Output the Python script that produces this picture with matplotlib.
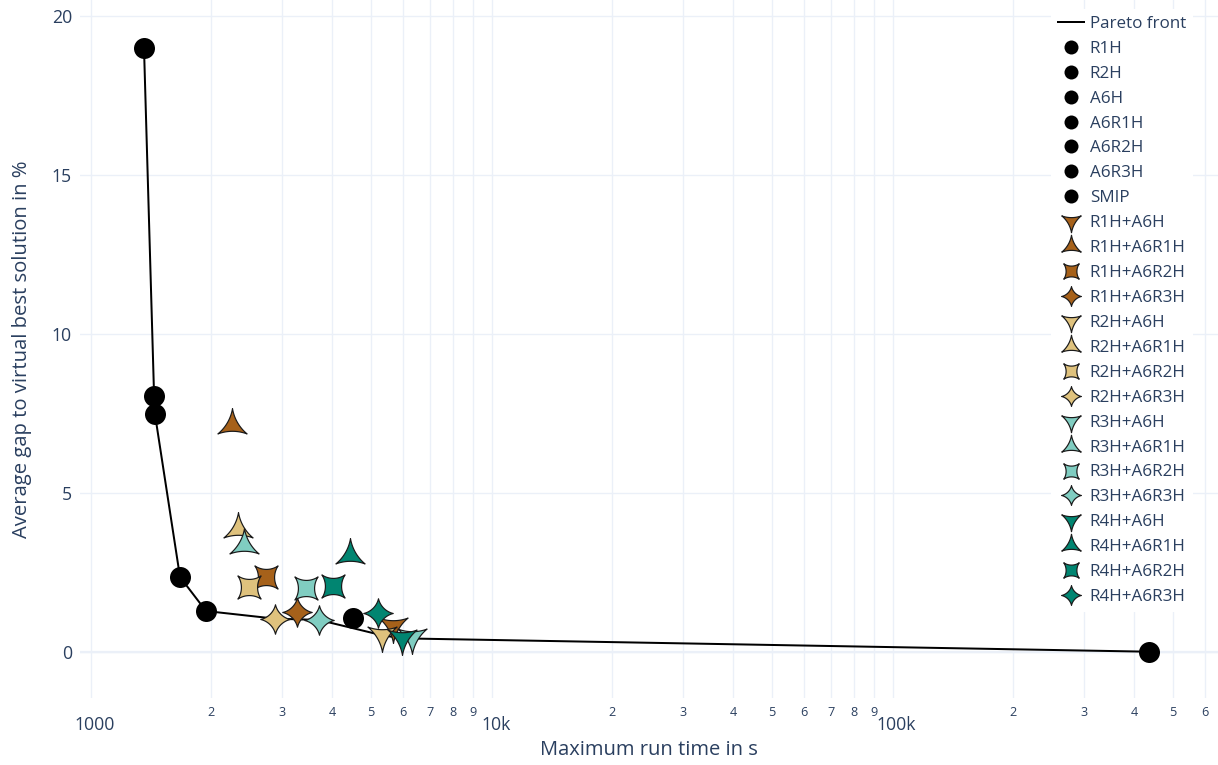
import numpy as np
import matplotlib
matplotlib.use("Agg")
import matplotlib.pyplot as plt
import matplotlib.transforms as mtransforms
from matplotlib.path import Path
from matplotlib.markers import MarkerStyle
from matplotlib.lines import Line2D

plt.rcParams['font.family'] = ['Open Sans', 'DejaVu Sans']

# ---------------------------------------------------------------- data
single_names = ["R1H", "R2H", "A6H", "A6R1H", "A6R2H", "A6R3H", "SMIP"]
single_time = [1358, 1439, 1446, 1670, 1939, 4510, 435000]
single_gap = [19.0, 8.05, 7.48, 2.35, 1.28, 1.06, 0.0]

combo_first = ["R1H", "R2H", "R3H", "R4H"]
combo_second = ["A6H", "A6R1H", "A6R2H", "A6R3H"]
combo_time = [
    [5680, 2247, 2732, 3274],   # R1H + ...
    [5318, 2333, 2483, 2882],   # R2H + ...
    [6325, 2415, 3436, 3707],   # R3H + ...
    [5985, 4433, 4013, 5208],   # R4H + ...
]
combo_gap = [
    [0.82, 7.14, 2.34, 1.24],
    [0.52, 3.85, 2.05, 1.04],
    [0.45, 3.37, 2.00, 1.00],
    [0.42, 3.05, 2.08, 1.21],
]

first_colors = ["#a6611a", "#dfc27d", "#80cdc1", "#018571"]

x_major_ticks = [1000, 10000, 100000]
x_major_labels = ["1000", "10k", "100k"]
x_minor_digits = [2, 3, 4, 5, 6, 7, 8, 9]
y_ticks = [0, 5, 10, 15, 20]

x_title = "Maximum run time in s"
y_title = "Average gap to virtual best solution in %"

# ---------------------------------------------------------------- style
W, H, DPI = 1218, 765, 100
PX = 72.0 / DPI                      # points per pixel
text_color = "#2a3f5f"
grid_color = "#ebf0f8"


def star_path(verts, rc, n=30):
    """Closed outline whose sides are concave circular arcs of radius rc."""
    pts = []
    k = len(verts)
    for i in range(k):
        p1 = np.asarray(verts[i], float)
        p2 = np.asarray(verts[(i + 1) % k], float)
        mid = (p1 + p2) / 2
        chord = p2 - p1
        length = np.hypot(*chord)
        nrm = np.array([-chord[1], chord[0]]) / length
        if np.dot(nrm, mid) < 0:
            nrm = -nrm
        c = mid + nrm * np.sqrt(rc ** 2 - (length / 2) ** 2)
        a1 = np.arctan2(p1[1] - c[1], p1[0] - c[0])
        a2 = np.arctan2(p2[1] - c[1], p2[0] - c[0])
        da = (a2 - a1 + np.pi) % (2 * np.pi) - np.pi
        ang = a1 + np.linspace(0, 1, n) * da
        seg = c + rc * np.column_stack([np.cos(ang), np.sin(ang)])
        pts.extend(seg[:-1])
    pts.append(pts[0])
    codes = [Path.MOVETO] + [Path.LINETO] * (len(pts) - 2) + [Path.CLOSEPOLY]
    return Path(np.array(pts), codes)


tx = np.sqrt(3) * 0.8
shape_paths = {
    "A6H": star_path([(tx, 0.8), (-tx, 0.8), (0, -1.6)], 4.0),       # star-triangle-down
    "A6R1H": star_path([(-tx, -0.8), (tx, -0.8), (0, 1.6)], 4.0),    # star-triangle-up
    "A6R2H": star_path([(-1.1, 1.1), (-1.1, -1.1), (1.1, -1.1), (1.1, 1.1)], 2.0),
    "A6R3H": star_path([(-1.4, 0), (0, -1.4), (1.4, 0), (0, 1.4)], 1.9),
}


def marker_kw(key, r_px):
    path = shape_paths[key]
    extent = np.max(np.abs(path.vertices))
    return dict(marker=MarkerStyle(path, joinstyle="round"),
                markersize=2 * extent * r_px * PX)


R_PLOT = 10.5    # marker half-size in the plot, px
R_LEG = 7.0      # marker half-size in the legend, px

# ---------------------------------------------------------------- pareto front
all_t = list(single_time) + [t for row in combo_time for t in row]
all_g = list(single_gap) + [g for row in combo_gap for g in row]
order = np.argsort(all_t)
front_t, front_g = [], []
best = np.inf
for i in order:
    if all_g[i] < best:
        best = all_g[i]
        front_t.append(all_t[i])
        front_g.append(all_g[i])

# ---------------------------------------------------------------- figure
fig = plt.figure(figsize=(W / DPI, H / DPI), dpi=DPI)
left, right, top, bottom = 80, W, 0, 698
ax = fig.add_axes([left / W, (H - bottom) / H, (right - left) / W, (bottom - top) / H])
ax.set_xscale("log")
ax.set_xlim(10 ** 2.9733, 10 ** 5.8112)
ax.set_ylim(-1.457, 20.51)

for s in ax.spines.values():
    s.set_visible(False)
ax.set_axisbelow(True)
ax.grid(True, which="both", axis="x", color=grid_color, lw=1.0 * PX * 1.4)
ax.grid(True, which="major", axis="y", color=grid_color, lw=1.0 * PX * 1.4)
ax.axhline(0, color=grid_color, lw=2.2 * PX, zorder=0.5)

ax.set_xticks(x_major_ticks, x_major_labels)
minor_pos, minor_lab = [], []
lo, hi = ax.get_xlim()
for e in (1000, 10000, 100000):
    for d in x_minor_digits:
        if lo <= d * e <= hi:
            minor_pos.append(d * e)
            minor_lab.append(str(d))
ax.set_xticks(minor_pos, minor_lab, minor=True)
ax.set_yticks(y_ticks, [str(v) for v in y_ticks])

ax.tick_params(which="both", length=0, colors=text_color)
ax.tick_params(axis="x", which="major", pad=17.5 * PX, labelsize=17.6 * PX)
ax.tick_params(axis="x", which="minor", pad=8.0 * PX, labelsize=12.6 * PX)
ax.tick_params(axis="y", which="major", pad=8.0 * PX, labelsize=17.6 * PX)

# decade labels sit a little to the right of their grid line
shift = mtransforms.ScaledTranslation(4 / DPI, 0, fig.dpi_scale_trans)
for tick in ax.xaxis.get_major_ticks():
    tick.label1.set_transform(tick.label1.get_transform() + shift)

ax.set_xlabel(x_title, fontsize=20.2 * PX, color=text_color, va="center")
ax.xaxis.set_label_coords(0.5, -(750 - bottom) / (bottom - top))
ax.set_ylabel(y_title, fontsize=20.3 * PX, color=text_color, va="center")
ax.yaxis.set_label_coords(-(left - 22) / (right - left), 0.5)

# ---------------------------------------------------------------- traces
ax.plot(front_t, front_g, color="black", lw=2.0 * PX, zorder=2)

handles = [Line2D([], [], color="black", lw=2.0 * PX)]
labels = ["Pareto front"]

for name, t, g in zip(single_names, single_time, single_gap):
    ax.plot([t], [g], ls="none", marker="o", markersize=2 * R_PLOT * PX,
            mfc="black", mec="black", mew=0, zorder=3)
    handles.append(Line2D([], [], ls="none", marker="o", markersize=2 * R_LEG * PX,
                          mfc="black", mec="black", mew=0))
    labels.append(name)

for fi, first in enumerate(combo_first):
    for si, second in enumerate(combo_second):
        ax.plot([combo_time[fi][si]], [combo_gap[fi][si]], ls="none",
                mfc=first_colors[fi], mec="#1a1a1a", mew=1.2 * PX, zorder=3,
                **marker_kw(second, R_PLOT))
        handles.append(Line2D([], [], ls="none", mfc=first_colors[fi], mec="#1a1a1a",
                              mew=1.2 * PX, **marker_kw(second, R_LEG)))
        labels.append(f"{first}+{second}")

fs_leg = 17.0 * PX
leg = ax.legend(handles, labels, loc="upper left",
                bbox_to_anchor=((1051 - left) / (right - left), (bottom - 9.0) / (bottom - top)),
                borderaxespad=0, borderpad=0.4, fontsize=fs_leg, labelcolor=text_color,
                frameon=True, facecolor="white", edgecolor="none", framealpha=1,
                fancybox=False, handlelength=1.55, handletextpad=0.33,
                labelspacing=0.525, numpoints=1)

fig.savefig("out.png", dpi=DPI, facecolor="white")
